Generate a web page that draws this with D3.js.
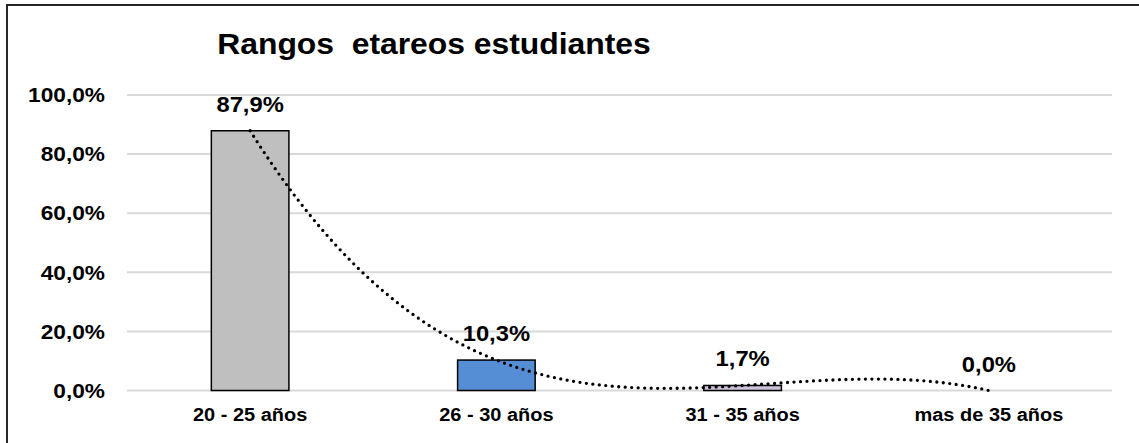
<!DOCTYPE html>
<html>
<head>
<meta charset="utf-8">
<script src="https://cdn.jsdelivr.net/npm/d3@7"></script>
<style>
  body { margin: 0; background: #fff; }
  text { font-family: "Liberation Sans", Arial, sans-serif; font-weight: bold; fill: #000; }
</style>
</head>
<body>
<div id="chart"></div>
<script>
// données du graphique
const categories = ["20 - 25 años", "26 - 30 años", "31 - 35 años", "mas de 35 años"];
const values = [87.9, 10.3, 1.7, 0.0];
const valueLabels = ["87,9%", "10,3%", "1,7%", "0,0%"];
const barColors = ["#bfbfbf", "#558ed5", "#ccc1da", "#bfbfbf"];
const yTicks = [0, 20, 40, 60, 80, 100];
const title = "Rangos  etareos estudiantes";

const width = 1139, height = 443;
const stretch = 1.08; // le texte original est un peu étiré en largeur

const svg = d3.select("#chart")
    .append("svg")
    .attr("width", width)
    .attr("height", height);

// cadre (seuls les bords haut et gauche sont visibles)
svg.append("rect")
    .attr("x", 7).attr("y", 5)
    .attr("width", 1300).attr("height", 600)
    .attr("fill", "none")
    .attr("stroke", "#262626")
    .attr("stroke-width", 2);

const x = d3.scaleBand()
    .domain(categories)
    .range([127, 1112]);

const y = d3.scaleLinear()
    .domain([0, 100])
    .range([390.5, 95]);

// petite aide pour placer un texte étiré
function stretchedText(sel, tx, ty) {
    return sel.attr("transform", `translate(${tx},${ty}) scale(${stretch},1)`);
}

// titre (double espace conservé)
stretchedText(svg.append("text"), 434, 54)
    .attr("text-anchor", "middle")
    .style("white-space", "pre")
    .style("font-size", "29.5px")
    .text(title);

// grille
svg.append("g")
    .selectAll("line")
    .data(yTicks)
    .join("line")
    .attr("x1", 127).attr("x2", 1112)
    .attr("y1", d => y(d)).attr("y2", d => y(d))
    .attr("stroke", "#d9d9d9")
    .attr("stroke-width", 2);

// étiquettes de l'axe Y
svg.append("g")
    .selectAll("text")
    .data(yTicks)
    .join("text")
    .each(function(d) { stretchedText(d3.select(this), 105, y(d)); })
    .attr("text-anchor", "end")
    .attr("dominant-baseline", "central")
    .style("font-size", "21px")
    .text(d => d3.format(".1f")(d).replace(".", ",") + "%");

// barres
const barW = x.bandwidth() * 0.315;
svg.append("g")
    .selectAll("rect")
    .data(values)
    .join("rect")
    .attr("x", (d, i) => x(categories[i]) + (x.bandwidth() - barW) / 2)
    .attr("y", d => y(d))
    .attr("width", barW)
    .attr("height", d => y(0) - y(d))
    .attr("fill", (d, i) => barColors[i])
    .attr("stroke", d => d > 0 ? "#000" : "none")
    .attr("stroke-width", 1.5);

// étiquettes de l'axe X
svg.append("g")
    .selectAll("text")
    .data(categories)
    .join("text")
    .each(function(d) { stretchedText(d3.select(this), x(d) + x.bandwidth() / 2, 421); })
    .attr("text-anchor", "middle")
    .style("font-size", "18.5px")
    .text(d => d);

// courbe de tendance polynomiale (ordre 3) calculée à partir des valeurs
const idx = d3.scaleLinear()
    .domain([0, categories.length - 1])
    .range([x(categories[0]) + x.bandwidth() / 2, x(categories[categories.length - 1]) + x.bandwidth() / 2]);

function poly(t) {
    let s = 0;
    for (let i = 0; i < values.length; i++) {
        let l = 1;
        for (let j = 0; j < values.length; j++) {
            if (j !== i) l *= (t - j) / (i - j);
        }
        s += values[i] * l;
    }
    return s;
}

const trend = d3.range(0, 3.0001, 0.02).map(t => [idx(t), y(poly(t))]);
svg.append("path")
    .attr("d", d3.line()(trend))
    .attr("fill", "none")
    .attr("stroke", "#000")
    .attr("stroke-width", 3.3)
    .attr("stroke-linecap", "round")
    .attr("stroke-dasharray", "0 6.5");

// étiquettes de données
svg.append("g")
    .selectAll("text")
    .data(values)
    .join("text")
    .each(function(d, i) { stretchedText(d3.select(this), x(categories[i]) + x.bandwidth() / 2, y(d) - 19); })
    .attr("text-anchor", "middle")
    .style("font-size", "22px")
    .text((d, i) => valueLabels[i]);
</script>
</body>
</html>
